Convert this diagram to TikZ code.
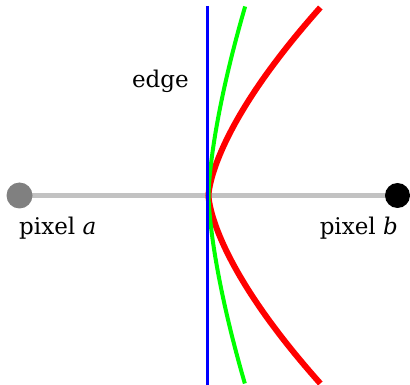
\documentclass[tikz,border=0pt]{standalone}
\usepackage{fontspec}
\setmainfont{DejaVu Serif}
\begin{document}
\begin{tikzpicture}[x=1pt,y=-1pt,
  lbl/.style={inner sep=0pt,font=\fontsize{23}{27}\selectfont},
  dot/.style={circle,inner sep=0pt,minimum size=26pt},
  graybar/.style={line width=5pt,color=black!24},
  redcurve/.style={line width=6pt,color=red},
  greencurve/.style={line width=4pt,color=green},
  blueedge/.style={line width=2.5pt,color=blue}]
\useasboundingbox (0,0) rectangle (410,385);
\coordinate (pa) at (19.5,195.5);
\coordinate (pb) at (397.5,195.5);
\coordinate (et) at (207.5,6);
\coordinate (eb) at (207.5,385);
\draw[graybar] (pa) -- (pb);
\draw[redcurve] plot[domain=-188:188,samples=121,variable=\t] ({208.5+0.0434*pow(abs(\t),1.5)},{195.5+\t});
\draw[greencurve] plot[domain=-189:188,samples=121,variable=\t] ({208.5+0.0141*pow(abs(\t),1.5)},{195.5+\t});
\draw[blueedge] (et) -- (eb);
\node[dot,fill=black!50] (a) at (pa) {};
\node[dot,fill=black,minimum size=25pt] (b) at (pb) {};
\node[lbl,anchor=base west] (la) at (19,235) {pixel \textit{a}};
\node[lbl,anchor=base east] (lb) at (398,235) {pixel \textit{b}};
\node[lbl,anchor=base east] (le) at (189,88) {edge};
\end{tikzpicture}
\end{document}
